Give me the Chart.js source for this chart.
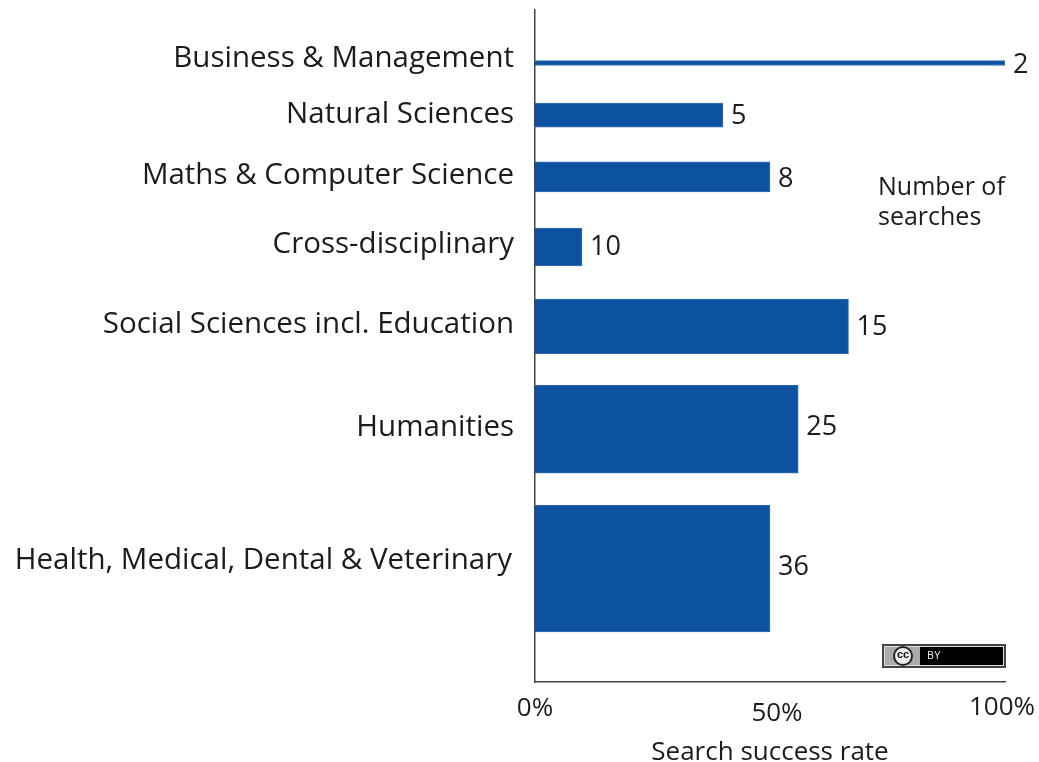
<!DOCTYPE html>
<html>
<head>
<meta charset="utf-8">
<style>
  html, body { margin: 0; padding: 0; background: #fff; }
  canvas { display: block; }
</style>
<script src="https://cdn.jsdelivr.net/npm/chart.js@4"></script>
</head>
<body>
<canvas id="chart" width="1039" height="762"></canvas>
<script>
const categories = ['Business & Management', 'Natural Sciences', 'Maths & Computer Science', 'Cross-disciplinary',
  'Social Sciences incl. Education', 'Humanities', 'Health, Medical, Dental & Veterinary'];
const successRate = [100, 40, 50, 10, 66.7, 56, 50];
const searches = [2, 5, 8, 10, 15, 25, 36];
// the bars are drawn roughly as thick as their number of searches, on this vertical axis
const barCentres = [15, 29.7, 47.2, 67, 89.5, 118.5, 157.9];
const barSpans = [1.4, 6.8, 8.5, 10.7, 15.5, 24.9, 35.9];
const xTicks = [0, 50, 100];

const Y_MAX = 190;
const PLOT_HEIGHT = 672;
const FONT = '"Open Sans"';
const BLUE = '#0d51a1';

// the reference has its labels a little off the ticks, [dx, dy] per tick
const yLabelNudge = [[0, -4], [0, 0], [0, -1], [0, -2], [0, -2], [0, -2], [-2, -8]];
const xLabelNudge = [[0, 0], [7, 5], [-3, -1]];
const countNudge = [2, 1, 2, 0, 1, -2, -1];

const nudgeLabels = {
  id: 'nudgeLabels',
  afterLayout(chart) {
    [['x', xLabelNudge], ['y', yLabelNudge]].forEach(([id, nudge]) => {
      chart.scales[id].getLabelItems().forEach((item, i) => {
        item.options.translation[0] += nudge[i][0];
        item.options.translation[1] += nudge[i][1];
      });
    });
  }
};

const annotations = {
  id: 'annotations',
  afterDatasetsDraw(chart) {
    const ctx = chart.ctx;
    ctx.save();
    ctx.fillStyle = '#1c1c1c';
    ctx.textBaseline = 'middle';
    ctx.textAlign = 'left';

    // number of searches next to each bar
    ctx.font = '27px ' + FONT;
    searches.forEach((n, i) => {
      const bar = chart.getDatasetMeta(i).data[0];
      ctx.fillText(String(n), bar.x + 8, bar.y + countNudge[i]);
    });

    ctx.font = '25px ' + FONT;
    ctx.fillText('Number of', 878, 188);
    ctx.fillText('searches', 878, 218);

    // CC BY badge
    ctx.fillStyle = '#444';
    ctx.fillRect(882, 644, 124, 24);
    ctx.fillStyle = '#ddd';
    ctx.fillRect(884, 646, 120, 20);
    ctx.fillStyle = '#aaa';
    ctx.fillRect(885, 647, 35, 18);
    ctx.fillStyle = '#000';
    ctx.fillRect(920, 647, 83, 18);
    ctx.beginPath();
    ctx.arc(903, 656, 9, 0, Math.PI * 2);
    ctx.fillStyle = '#eee';
    ctx.fill();
    ctx.lineWidth = 2;
    ctx.strokeStyle = '#222';
    ctx.stroke();
    ctx.fillStyle = '#111';
    ctx.textAlign = 'center';
    ctx.font = 'bold 11px "Liberation Sans"';
    ctx.fillText('cc', 903, 655);
    ctx.fillStyle = '#eee';
    ctx.font = '10px "Liberation Sans"';
    ctx.fillText('BY', 934, 656);
    ctx.restore();
  }
};

new Chart(document.getElementById('chart'), {
  type: 'bar',
  data: {
    datasets: categories.map((name, i) => ({
      label: name,
      data: [{ x: successRate[i], y: barCentres[i] }],
      barThickness: barSpans[i] * PLOT_HEIGHT / Y_MAX,
      backgroundColor: BLUE,
      borderColor: '#3a72b5',
      borderWidth: 1
    }))
  },
  options: {
    indexAxis: 'y',
    responsive: false,
    animation: false,
    grouped: false,
    layout: { padding: { top: 10, right: 34, bottom: 0, left: 0 } },
    plugins: { legend: { display: false }, tooltip: { enabled: false } },
    scales: {
      x: {
        type: 'linear',
        min: 0,
        max: 100,
        afterBuildTicks(scale) { scale.ticks = xTicks.map(v => ({ value: v })); },
        afterFit(scale) {
          scale.height = 80;
          scale.paddingLeft = 0;
          scale.paddingRight = 0;
        },
        grid: { display: false },
        border: { color: '#444', width: 1.5 },
        ticks: {
          callback: v => v + '%',
          color: '#1c1c1c',
          padding: 3,
          maxRotation: 0,
          autoSkip: false,
          font: { family: FONT, size: 26 }
        },
        title: {
          display: true,
          text: 'Search success rate',
          color: '#1c1c1c',
          font: { family: FONT, size: 26 },
          padding: { top: 2, bottom: -6 }
        }
      },
      y: {
        type: 'linear',
        reverse: true,
        offset: false,
        min: 0,
        max: Y_MAX,
        afterBuildTicks(scale) { scale.ticks = barCentres.map(v => ({ value: v })); },
        afterFit(scale) {
          scale.width = 535;
          scale.paddingTop = 0;
          scale.paddingBottom = 0;
        },
        grid: { display: false, drawTicks: false, offset: false },
        border: { color: '#444', width: 1.5 },
        ticks: {
          callback: (v, i) => categories[i],
          color: '#1c1c1c',
          padding: 21,
          autoSkip: false,
          font: { family: FONT, size: 29.5 }
        }
      }
    }
  },
  plugins: [nudgeLabels, annotations]
});
</script>
</body>
</html>
